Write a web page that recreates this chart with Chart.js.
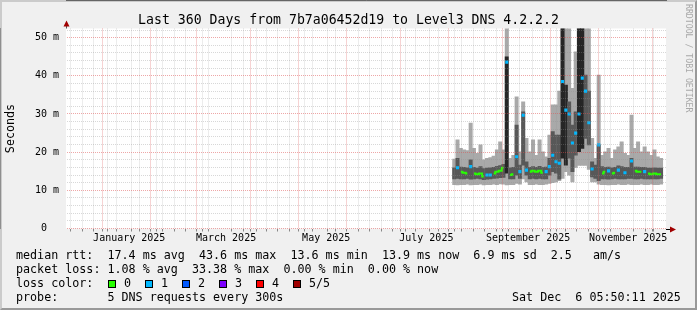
<!DOCTYPE html>
<html>
<head>
<meta charset="utf-8">
<script src="https://cdn.jsdelivr.net/npm/chart.js@4.4.0/dist/chart.umd.min.js"></script>
<style>
  html, body { margin: 0; padding: 0; background: #f0f0f0; }
  #moldura { position: absolute; left: 0; top: 0; width: 697px; height: 310px; box-sizing: border-box;
    border-top: 2px solid #cbcbcb; border-left: 2px solid #cbcbcb;
    border-right: 2px solid #999; border-bottom: 2px solid #999; }
  #grafico { position: absolute; left: 0; top: 0; }
  .txt { position: absolute; font-family: "DejaVu Sans Mono", monospace; white-space: pre; color: #000; }
  .leg { font-size: 11.7px; line-height: 14px; }
  .caixa { position: absolute; top: 279.5px; width: 8px; height: 8px; box-sizing: border-box; border: 1px solid #000; }
</style>
</head>
<body>
<div id="moldura"></div>
<canvas id="grafico" width="697" height="310"></canvas>

<div class="txt" style="left:0;width:697px;text-align:center;top:11.75px;font-size:13.2px;line-height:normal">Last 360 Days from 7b7a06452d19 to Level3 DNS 4.2.2.2</div>
<div class="txt" style="left:684px;top:4px;font-size:8.2px;line-height:normal;writing-mode:vertical-rl;color:#a8a8a8">RRDTOOL / TOBI OETIKER</div>

<div class="txt leg" style="left:16px;top:247.65px">median rtt:  17.4 ms avg  43.6 ms max  13.6 ms min  13.9 ms now  6.9 ms sd  2.5   am/s</div>
<div class="txt leg" style="left:16px;top:261.65px">packet loss: 1.08 % avg  33.38 % max  0.00 % min  0.00 % now</div>
<div class="txt leg" style="left:16px;top:275.65px">loss color:</div>
<div id="cores"></div>
<div class="txt leg" style="left:16px;top:289.65px">probe:       5 DNS requests every 300s</div>
<div class="txt leg" style="left:512px;top:289.65px">Sat Dec  6 05:50:11 2025</div>

<script>
// Dados (ms), blocos de 2 dias a partir de 1 de agosto de 2025
const minimo  = [11.5,11.4,11.5,11.5,11.6,11.4,11.5,11.5,11.6,11.4,11.5,11.5,11.6,11.5,11.7,11.6,
                 11.4,11.5,11.5,11.8,11.6,13.0,12.2,11.5,11.5,11.6,11.5,11.5,11.6,11.8,12.0,12.2,
                 12.5,13.1,14.9,14.0,12.2,16.0,16.5,16.5,16.5,15.5,12.2,12.2,11.6,11.5,11.5,11.4,
                 11.5,11.5,11.6,11.5,11.5,11.6,11.5,11.5,11.5,11.6,11.5,11.5,11.6,11.5,11.5,11.6];
const quartil1 = [13.0,13.1,13.0,13.0,13.1,12.9,13.0,13.1,13.0,12.8,12.9,13.0,13.1,13.2,13.3,13.4,
                 14.5,13.0,13.0,14.0,13.1,16.6,14.0,13.0,13.1,13.0,13.1,13.0,13.0,14.0,14.9,14.5,
                 12.9,18.4,16.6,18.4,14.9,19.2,20.1,21.0,23.6,21.9,13.5,13.1,12.5,13.0,13.0,12.9,
                 13.0,13.1,13.0,13.0,13.0,13.1,13.1,13.0,13.0,13.1,13.0,13.0,13.0,13.0,13.0,13.1];
const mediana = [14.2,15.9,14.9,14.6,14.4,16.2,14.4,14.2,14.4,13.6,14.0,14.0,14.4,14.9,15.1,15.9,
                 43.6,14.0,14.2,18.8,14.9,29.7,15.3,14.9,15.1,14.9,15.1,14.6,14.9,16.2,19.2,17.5,
                 17.1,38.5,31.0,30.0,22.4,25.0,30.0,39.4,36.0,27.7,15.6,14.4,21.9,14.4,14.9,15.1,
                 14.4,14.6,15.3,15.1,14.6,14.9,17.7,15.1,14.9,14.9,14.9,14.4,14.2,14.4,14.2,14.2];
const quartil3 = [15.9,18.4,16.1,16.0,15.9,18.0,16.0,15.8,16.2,15.7,15.8,15.9,16.0,16.3,16.5,16.8,
                 45.0,15.9,16.0,27.1,16.6,30.6,17.5,16.0,16.2,16.0,16.3,16.0,16.1,18.4,25.4,24.5,
                 24.5,60.0,37.6,33.2,27.1,30.6,60.0,60.0,40.2,36.0,17.5,16.6,21.9,16.2,16.0,16.1,
                 15.9,16.0,16.4,16.2,16.0,16.0,18.4,16.1,16.1,16.0,16.0,15.8,15.8,15.9,15.8,15.8];
const maximo  = [18.2,23.2,21.0,20.6,20.4,27.6,21.0,19.7,21.9,18.0,18.4,18.6,19.0,20.6,22.7,20.6,
                 60.0,18.4,19.2,34.5,20.1,33.2,23.6,20.1,23.2,19.2,23.2,20.1,18.8,24.5,32.4,32.4,
                 36.0,60.0,60.0,60.0,36.7,46.3,60.0,60.0,60.0,60.0,23.6,18.4,40.2,19.2,20.1,21.0,
                 18.4,20.6,21.4,22.7,19.7,19.2,29.7,21.0,22.7,20.1,21.4,20.1,19.2,20.6,18.8,18.4];
const perda   = [0,1,0,0,0,1,0,0,0,0,1,1,0,0,0,0,
                 1,0,0,1,1,1,1,0,0,0,0,0,1,1,1,1,
                 1,1,1,1,1,1,1,1,1,1,1,0,1,0,0,1,
                 0,0,1,0,1,0,1,0,0,0,1,0,0,0,0,0];

const corPerda = ['#26ff00', '#00b8ff', '#0059ff', '#7e00ff', '#ff0000', '#a00000'];
const nomePerda = ['0', '1', '2', '3', '4', '5/5'];

const rotulosMes = ['January 2025', 'March 2025', 'May 2025', 'July 2025', 'September 2025', 'November 2025'];
const mesesRotulo = [0, 2, 4, 6, 8, 10];
const ticksY = [0, 2, 4, 6, 8, 10, 12, 14, 16, 18, 20, 22, 24, 26, 28, 30, 32, 34, 36, 38, 40, 42, 44, 46, 48, 50, 52];

// eixo x em dias desde o início da janela de 360 dias
const inicio = Date.UTC(2024, 11, 11, 5, 50, 11);
const DIA = 86400000;
function diaDe(ano, mes, d) { return (Date.UTC(ano, mes, d) - inicio) / DIA; }

const dias = mediana.map((_, i) => diaDe(2025, 7, 1) + 2 * i + 1);

// linhas de grade: semanas (domingos) e inícios de mês
const tipoTick = new Map();
for (let d = diaDe(2024, 11, 15); d < 360; d += 7) tipoTick.set(+d.toFixed(4), 'semana');
for (let m = 0; m < 12; m++) tipoTick.set(+diaDe(2025, m, 1).toFixed(4), 'mes');
const textoTick = new Map();
mesesRotulo.forEach((m, i) => {
  const v = +(diaDe(2025, m, 1) + 15).toFixed(4);
  tipoTick.set(v, 'rotulo');
  textoTick.set(v, rotulosMes[i]);
});

// legenda das cores de perda
const cores = document.getElementById('cores');
corPerda.forEach((c, k) => {
  const cx = document.createElement('div');
  cx.className = 'caixa';
  cx.style.left = (108.3 + 37 * k) + 'px';
  cx.style.background = c;
  cores.appendChild(cx);
  const t = document.createElement('div');
  t.className = 'txt leg';
  t.style.left = (124 + 37 * k) + 'px';
  t.style.top = '275.65px';
  t.textContent = nomePerda[k];
  cores.appendChild(t);
});

const fundoArea = {
  id: 'fundoArea',
  beforeDraw(chart) {
    const { ctx, chartArea: a } = chart;
    ctx.save();
    ctx.fillStyle = '#ffffff';
    ctx.fillRect(a.left, a.top, a.right - a.left, a.bottom - a.top);
    ctx.restore();
  }
};

const setas = {
  id: 'setas',
  afterDraw(chart) {
    const { ctx, chartArea: a } = chart;
    ctx.save();
    ctx.strokeStyle = '#000';
    ctx.lineWidth = 1;
    ctx.beginPath();
    ctx.moveTo(a.right, Math.round(a.bottom) + 0.5);
    ctx.lineTo(a.right + 5, Math.round(a.bottom) + 0.5);
    ctx.stroke();
    ctx.strokeStyle = '#555';
    ctx.beginPath();
    ctx.moveTo(Math.round(a.left) + 0.5, a.top);
    ctx.lineTo(Math.round(a.left) + 0.5, a.top - 4);
    ctx.stroke();
    ctx.fillStyle = '#a00000';
    const xa = Math.round(a.left) + 0.5;
    ctx.beginPath();
    ctx.moveTo(xa, a.top - 8);
    ctx.lineTo(xa - 3, a.top - 2);
    ctx.lineTo(xa + 3, a.top - 2);
    ctx.closePath();
    ctx.fill();
    const ya = Math.round(a.bottom) + 0.5;
    ctx.beginPath();
    ctx.moveTo(a.right + 10, ya);
    ctx.lineTo(a.right + 4, ya - 3);
    ctx.lineTo(a.right + 4, ya + 3);
    ctx.closePath();
    ctx.fill();
    ctx.restore();
  }
};

const fonteMono = { family: '"DejaVu Sans Mono", monospace', size: 10 };
const larguraBloco = 600 / 360 * 2;

new Chart(document.getElementById('grafico').getContext('2d'), {
  data: {
    datasets: [
      {
        type: 'line',
        order: 0,
        data: dias.map((d, i) => ({ x: d, y: mediana[i] })),
        stepped: 'middle',
        borderWidth: 2,
        borderColor: corPerda[0],
        segment: {
          borderColor: c => (perda[c.p0DataIndex] === 0 && perda[c.p1DataIndex] === 0) ? corPerda[0] : 'rgba(0,0,0,0)'
        },
        pointStyle: 'rect',
        pointRadius: c => perda[c.dataIndex] > 0 ? 2.2 : 0,
        pointBackgroundColor: c => corPerda[perda[c.dataIndex]],
        pointBorderWidth: 0
      },
      {
        type: 'bar',
        order: 1,
        data: dias.map((d, i) => ({ x: d, y: [quartil1[i], quartil3[i]] })),
        backgroundColor: c => (quartil3[c.dataIndex] - quartil1[c.dataIndex] > 20) ? '#262626' : '#585858',
        grouped: false,
        barThickness: larguraBloco,
        borderWidth: 0
      },
      {
        type: 'bar',
        order: 2,
        data: dias.map((d, i) => ({ x: d, y: [minimo[i], maximo[i]] })),
        backgroundColor: '#a9a9a9',
        grouped: false,
        barThickness: larguraBloco,
        borderWidth: 0
      }
    ]
  },
  options: {
    responsive: false,
    animation: false,
    events: [],
    layout: { autoPadding: false, padding: { top: 28.5, right: 31, left: 0, bottom: 0 } },
    plugins: { legend: { display: false }, tooltip: { enabled: false } },
    scales: {
      x: {
        type: 'linear',
        min: 0,
        max: 360,
        afterBuildTicks: s => { s.ticks = [...tipoTick.keys()].sort((a, b) => a - b).map(v => ({ value: v })); },
        afterFit: s => { s.height = 81.5; },
        ticks: {
          autoSkip: false,
          maxRotation: 0,
          padding: 1,
          color: '#000',
          font: fonteMono,
          callback: v => textoTick.get(+(+v).toFixed(4)) || ''
        },
        grid: {
          z: 1,
          lineWidth: 1,
          tickLength: 3,
          color: c => {
            const t = c.tick ? tipoTick.get(+c.tick.value.toFixed(4)) : 'semana';
            if (t === 'mes') return 'rgba(222,80,80,0.5)';
            if (t === 'rotulo') return 'rgba(0,0,0,0)';
            return 'rgba(143,143,143,0.35)';
          },
          tickColor: c => {
            const t = c.tick ? tipoTick.get(+c.tick.value.toFixed(4)) : 'semana';
            return t === 'rotulo' ? 'rgba(0,0,0,0)' : '#888';
          },
          tickBorderDash: []
        },
        border: { display: true, color: '#000', width: 1, dash: [1, 1] }
      },
      y: {
        type: 'linear',
        min: 0,
        max: 52.4,
        afterBuildTicks: s => { s.ticks = ticksY.map(v => ({ value: v })); },
        afterFit: s => { s.width = 66; },
        title: {
          display: true,
          text: 'Seconds',
          color: '#000',
          font: { family: '"DejaVu Sans Mono", monospace', size: 11.7 },
          padding: { top: 4, bottom: 0 }
        },
        ticks: {
          autoSkip: false,
          padding: 4,
          color: '#000',
          font: fonteMono,
          callback: v => v % 10 === 0 ? (v === 0 ? '0  ' : v + ' m') : ''
        },
        grid: {
          z: 1,
          lineWidth: 1,
          tickLength: 3,
          color: c => (c.tick && c.tick.value % 10 === 0) ? 'rgba(222,80,80,0.5)' : 'rgba(143,143,143,0.35)',
          tickColor: 'rgba(0,0,0,0)',
          tickBorderDash: []
        },
        border: { display: true, color: '#555', width: 1, dash: [1, 1] }
      }
    }
  },
  plugins: [fundoArea, setas]
});
</script>
</body>
</html>
